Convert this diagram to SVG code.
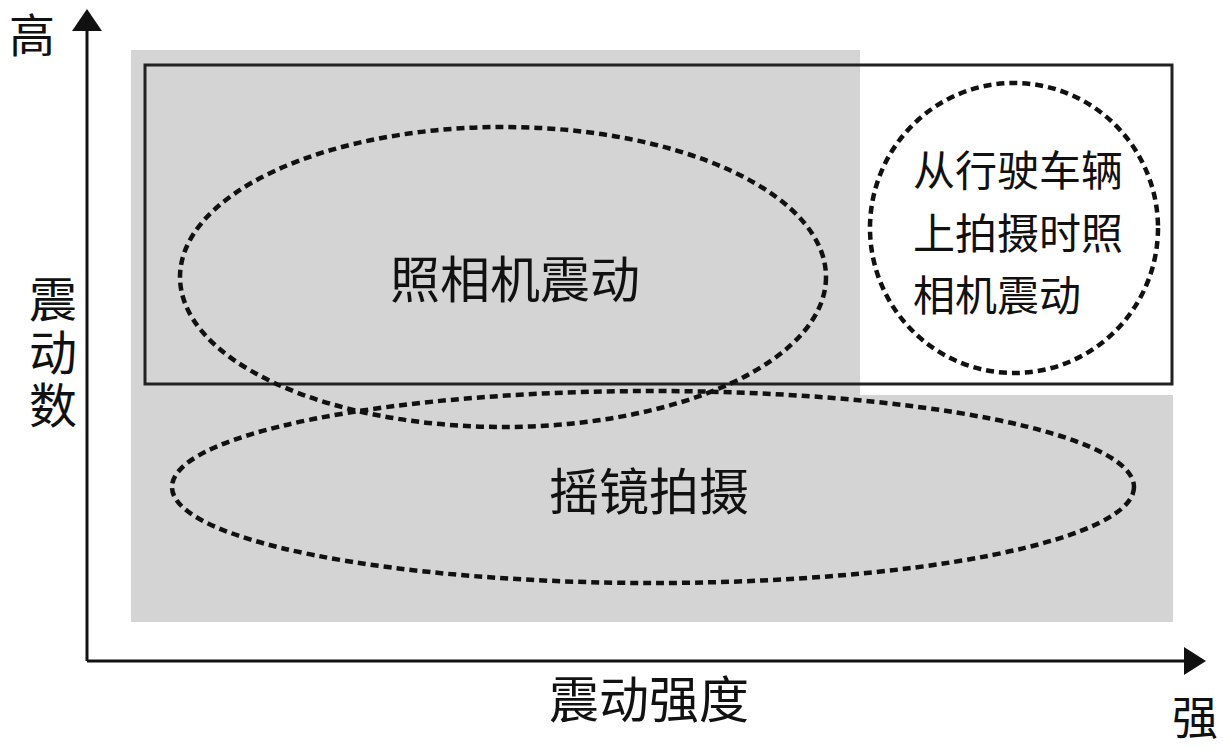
<svg xmlns="http://www.w3.org/2000/svg" width="1223" height="748" viewBox="0 0 1223 748">
<defs>
<style>
text{font-family:"Noto Sans CJK SC","Noto Sans CJK JP",sans-serif;fill:#111;font-size:50px}
.sm{font-size:42px}
.vt{font-size:48px;writing-mode:vertical-rl;letter-spacing:5px}
.dot{fill:none;stroke:#111;stroke-width:4.5;stroke-dasharray:8 5}
.ax{stroke:#111;stroke-width:3;fill:none}
</style>
</defs>
<rect width="1223" height="748" fill="#fff"/>
<g id="background">
<rect x="131" y="50" width="729" height="572" fill="#d4d4d4"/>
<rect x="131" y="395" width="1042" height="227" fill="#d4d4d4"/>
</g>
<g id="frame">
<rect x="145" y="65" width="1027" height="319" fill="none" stroke="#222" stroke-width="3"/>
</g>
<g id="connectors">
<line class="ax" x1="87" y1="661" x2="87" y2="28"/>
<path d="M72,31 L87,9 L102,31 Z" fill="#111"/>
<line class="ax" x1="87" y1="661" x2="1187" y2="661"/>
<path d="M1184,647 L1206,661 L1184,675 Z" fill="#111"/>
</g>
<g id="camera-shake">
<ellipse class="dot" cx="503" cy="277" rx="323" ry="150"/>
<text x="515" y="298" text-anchor="middle">照相机震动</text>
</g>
<g id="panning">
<ellipse class="dot" cx="653" cy="487" rx="481" ry="96"/>
<text x="649" y="510" text-anchor="middle">摇镜拍摄</text>
</g>
<g id="vehicle">
<ellipse class="dot" cx="1014" cy="228" rx="144" ry="145"/>
<text class="sm" x="913" y="186">从行驶车辆</text>
<text class="sm" x="913" y="249">上拍摄时照</text>
<text class="sm" x="913" y="311">相机震动</text>
</g>
<g id="labels">
<text x="9" y="52" style="font-size:46px">高</text>
<text class="vt" x="53" y="275">震动数</text>
<text x="649" y="718" text-anchor="middle">震动强度</text>
<text x="1172" y="734" style="font-size:46px">强</text>
</g>
</svg>
